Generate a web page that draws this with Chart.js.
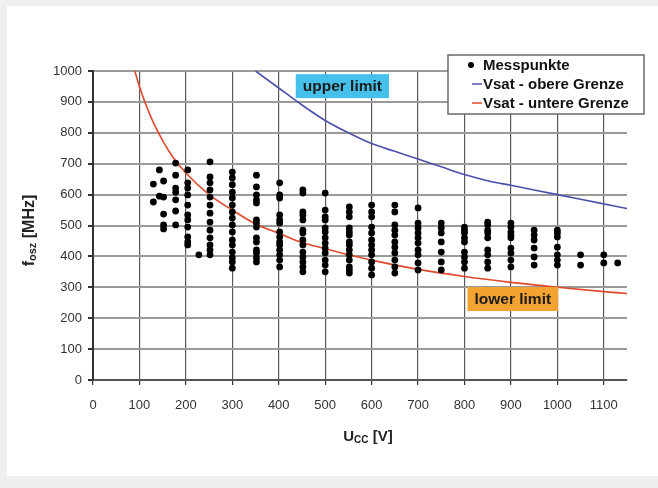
<!DOCTYPE html>
<html>
<head>
<meta charset="utf-8">
<script src="https://cdn.jsdelivr.net/npm/chart.js@4.4.1/dist/chart.umd.min.js"></script>
<style>
  html, body { margin: 0; padding: 0; background: #efefef; width: 658px; height: 488px; overflow: hidden; }
  #card { position: absolute; left: 7px; top: 6px; width: 651px; height: 470px; background: #ffffff; }
  #c { position: absolute; left: 0; top: 0; }
</style>
</head>
<body>
<div id="card"></div>
<canvas id="c" width="658" height="488"></canvas>
<script>
// ---- Data ----
// Measurement columns (U_CC in V) and measured f_osz values (MHz) in each column
const messU = [130, 143, 152, 178, 204, 228, 252, 300, 352, 402, 452, 500, 552, 600, 650, 700, 750, 800, 850, 900, 950, 1000, 1050, 1100, 1130];
const messF = [
  [634, 576],
  [680, 595],
  [644, 592, 537, 502, 489],
  [702, 663, 621, 608, 583, 547, 502],
  [680, 638, 621, 599, 566, 534, 518, 495, 463, 447, 437],
  [405],
  [706, 657, 638, 615, 592, 566, 540, 511, 485, 460, 437, 421, 405],
  [673, 654, 632, 608, 589, 566, 544, 524, 502, 479, 453, 437, 414, 395, 382, 362],
  [663, 625, 599, 583, 573, 518, 508, 495, 460, 447, 421, 411, 395, 382],
  [638, 599, 589, 534, 518, 508, 479, 463, 447, 437, 421, 405, 388, 366],
  [615, 605, 544, 534, 518, 485, 476, 453, 437, 414, 398, 382, 366, 350],
  [605, 550, 528, 518, 492, 479, 460, 443, 427, 411, 388, 372, 350],
  [560, 544, 528, 492, 479, 469, 447, 437, 421, 405, 388, 366, 356, 346],
  [566, 544, 528, 495, 476, 453, 437, 421, 405, 382, 362, 340],
  [566, 544, 502, 485, 469, 447, 430, 411, 388, 366, 346],
  [557, 508, 492, 476, 460, 443, 421, 405, 379, 356],
  [508, 492, 476, 447, 414, 382, 356],
  [495, 485, 476, 460, 447, 414, 398, 382, 362],
  [511, 502, 485, 476, 460, 421, 405, 382, 362],
  [508, 495, 479, 469, 460, 427, 411, 388, 366],
  [485, 469, 453, 427, 398, 372],
  [485, 476, 463, 430, 405, 388, 372],
  [405, 372],
  [405, 379],
  [379]
];
// Vsat - obere Grenze (upper limit curve)
const upperU = [350, 400, 450, 500, 550, 600, 650, 700, 750, 800, 850, 900, 950, 1000, 1050, 1100, 1150];
const upperF = [1000, 945, 890, 840, 800, 765, 740, 715, 690, 665, 645, 630, 615, 600, 585, 570, 555];
// Vsat - untere Grenze (lower limit curve)
const lowerU = [90, 100, 125, 150, 175, 200, 250, 300, 350, 400, 450, 500, 600, 700, 800, 900, 1000, 1100, 1150];
const lowerF = [1000, 950, 850, 775, 715, 670, 600, 550, 505, 475, 445, 425, 388, 358, 335, 316, 300, 286, 280];
// Axis ticks
const xTicks = [0, 100, 200, 300, 400, 500, 600, 700, 800, 900, 1000, 1100];
const yTicks = [0, 100, 200, 300, 400, 500, 600, 700, 800, 900, 1000];
// Labels
const seriesLabels = ['Messpunkte', 'Vsat - obere Grenze', 'Vsat - untere Grenze'];
const notes = [
  { text: 'upper limit', x: 537, y: 951, color: '#45c0ea' },
  { text: 'lower limit', x: 904, y: 262, color: '#f2a331' }
];

// ---- Build chart data ----
const messPoints = [];
messU.forEach((u, i) => messF[i].forEach(f => messPoints.push({ x: u, y: f })));
const upperPts = upperU.map((u, i) => ({ x: u, y: upperF[i] }));
const lowerPts = lowerU.map((u, i) => ({ x: u, y: lowerF[i] }));

const FONT = "'Liberation Sans', Arial, sans-serif";
const BLUE = '#4c50ac';
const RED = '#e2482c';

const decor = {
  id: 'decor',
  afterDatasetsDraw(chart) {
    const ctx = chart.ctx;
    const xs = chart.scales.x, ys = chart.scales.y;
    ctx.save();
    ctx.font = 'bold 15.5px ' + FONT;
    ctx.textAlign = 'center';
    ctx.textBaseline = 'middle';
    notes.forEach(n => {
      const cx = xs.getPixelForValue(n.x), cy = ys.getPixelForValue(n.y);
      const w = ctx.measureText(n.text).width + 14, h = 24;
      ctx.fillStyle = n.color;
      ctx.fillRect(cx - w / 2, cy - h / 2, w, h);
      ctx.fillStyle = '#1a1a1a';
      ctx.fillText(n.text, cx, cy + 1);
    });
    ctx.restore();
  },
  afterDraw(chart) {
    const ctx = chart.ctx;
    const ca = chart.chartArea;
    ctx.save();
    // legend box
    const lx = 448, ly = 55, lw = 196, lh = 59;
    ctx.fillStyle = '#ffffff';
    ctx.fillRect(lx, ly, lw, lh);
    ctx.strokeStyle = '#6a6a6a';
    ctx.lineWidth = 1.5;
    ctx.strokeRect(lx, ly, lw, lh);
    ctx.font = 'bold 15px ' + FONT;
    ctx.textBaseline = 'middle';
    ctx.textAlign = 'left';
    const ds = chart.data.datasets;
    const rows = [65, 84, 103];
    ds.forEach((d, i) => {
      const y = rows[i];
      if (i === 0) {
        ctx.fillStyle = '#000';
        ctx.beginPath();
        ctx.arc(471, y, 3, 0, Math.PI * 2);
        ctx.fill();
      } else {
        ctx.strokeStyle = d.borderColor;
        ctx.lineWidth = 1.5;
        ctx.beginPath();
        ctx.moveTo(472, y);
        ctx.lineTo(482, y);
        ctx.stroke();
      }
      ctx.fillStyle = '#111';
      ctx.fillText(d.label, 483, y + 1);
    });
    // axis titles with subscripts
    ctx.fillStyle = '#222';
    let tx = (ca.left + ca.right) / 2 + 8, ty = 437;
    const big = 'bold 15px ' + FONT, small = 'bold 10px ' + FONT;
    ctx.font = big; const w1 = ctx.measureText('U').width;
    ctx.font = small; const w2 = ctx.measureText('CC').width;
    ctx.font = big; const w3 = ctx.measureText(' [V]').width;
    let sx = tx - (w1 + w2 + w3) / 2;
    ctx.textAlign = 'left';
    ctx.font = big; ctx.fillText('U', sx, ty);
    ctx.font = small; ctx.fillText('CC', sx + w1, ty + 3);
    ctx.font = big; ctx.fillText(' [V]', sx + w1 + w2, ty);
    ctx.translate(30, (ca.top + ca.bottom) / 2 + 5);
    ctx.rotate(-Math.PI / 2);
    const bigY = 'bold 16px ' + FONT, smallY = 'bold 11px ' + FONT;
    ctx.font = bigY; const v1 = ctx.measureText('f').width;
    ctx.font = smallY; const v2 = ctx.measureText('osz').width;
    ctx.font = bigY; const v3 = ctx.measureText(' [MHz]').width;
    sx = -(v1 + v2 + v3) / 2;
    ctx.font = bigY; ctx.fillText('f', sx, 0);
    ctx.font = smallY; ctx.fillText('osz', sx + v1, 3);
    ctx.font = bigY; ctx.fillText(' [MHz]', sx + v1 + v2, 0);
    ctx.restore();
  }
};

new Chart(document.getElementById('c'), {
  type: 'scatter',
  data: {
    datasets: [
      { label: seriesLabels[0], data: messPoints, backgroundColor: '#000', borderColor: '#000',
        pointRadius: 3.4, pointHoverRadius: 3.4, borderWidth: 0, order: 1 },
      { label: seriesLabels[1], data: upperPts, showLine: true, borderColor: BLUE, borderWidth: 1.6,
        pointRadius: 0, cubicInterpolationMode: 'monotone', order: 2 },
      { label: seriesLabels[2], data: lowerPts, showLine: true, borderColor: RED, borderWidth: 1.6,
        pointRadius: 0, cubicInterpolationMode: 'monotone', order: 2 }
    ]
  },
  options: {
    responsive: false,
    animation: false,
    layout: { padding: { left: 0, top: 71, right: 31, bottom: 0 } },
    plugins: { legend: { display: false }, tooltip: { enabled: false } },
    scales: {
      x: {
        type: 'linear', min: 0, max: 1150,
        afterBuildTicks: s => { s.ticks = xTicks.map(v => ({ value: v })); },
        afterFit: s => { s.height = 108; },
        ticks: { font: { family: FONT, size: 13 }, color: '#333', padding: 13, maxRotation: 0, autoSkip: false,
                 callback: v => String(v) },
        grid: { color: '#5a5a5a', lineWidth: 1.2, tickLength: 5, tickColor: '#333' },
        border: { color: '#555', width: 2 }
      },
      y: {
        type: 'linear', min: 0, max: 1000,
        afterBuildTicks: s => { s.ticks = yTicks.map(v => ({ value: v })); },
        afterFit: s => { s.width = 93; },
        ticks: { font: { family: FONT, size: 13 }, color: '#333', padding: 6, autoSkip: false,
                 callback: v => String(v) },
        grid: { color: '#9a9a9a', lineWidth: 2, tickLength: 5, tickColor: '#333' },
        border: { color: '#333', width: 2 }
      }
    }
  },
  plugins: [decor]
});
</script>
</body>
</html>
